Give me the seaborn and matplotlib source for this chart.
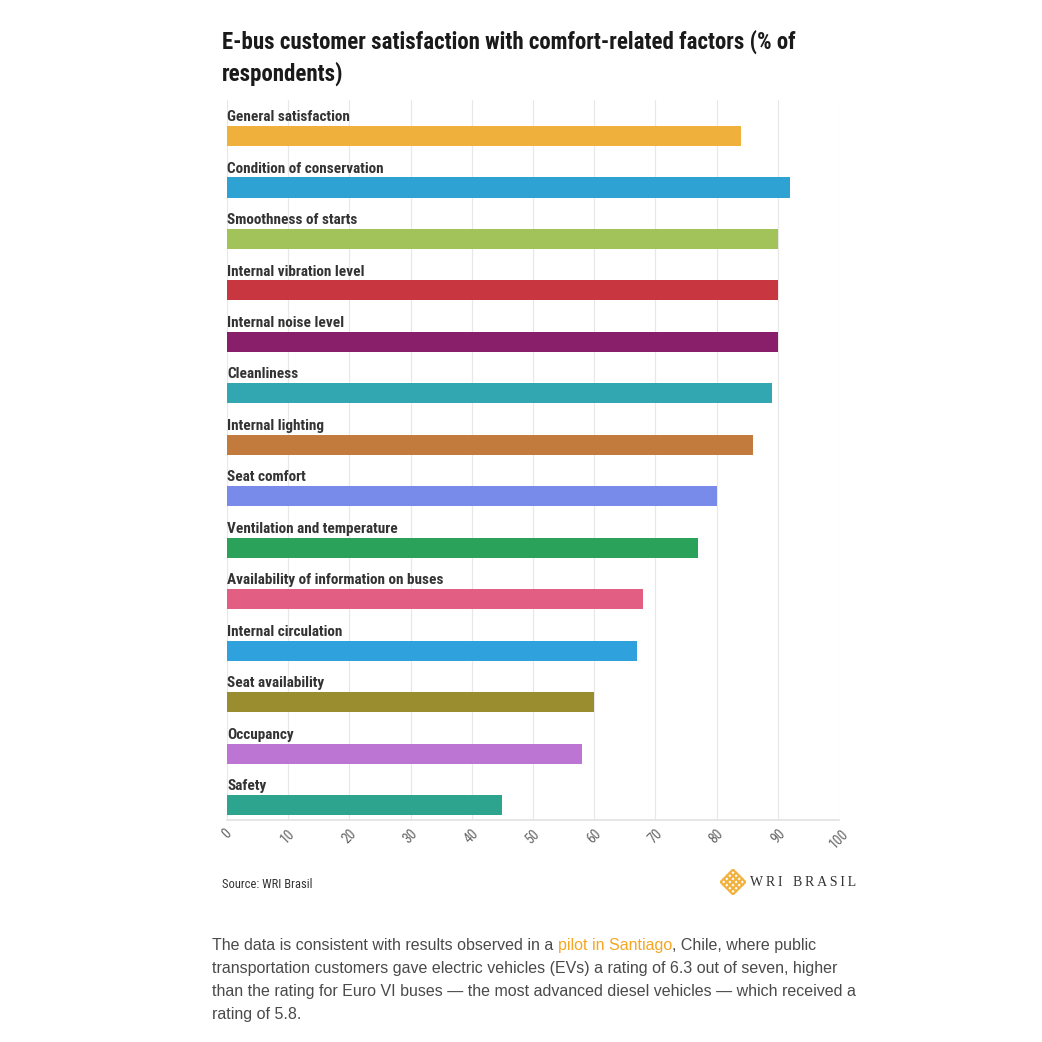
import matplotlib
matplotlib.use("Agg")
import matplotlib.pyplot as plt
import seaborn as sns
import pandas as pd

factors = [
    "General satisfaction", "Condition of conservation", "Smoothness of starts",
    "Internal vibration level", "Internal noise level", "Cleanliness",
    "Internal lighting", "Seat comfort", "Ventilation and temperature",
    "Availability of information on buses", "Internal circulation",
    "Seat availability", "Occupancy", "Safety",
]
satisfaction = [84, 92, 90, 90, 90, 89, 86, 80, 77, 68, 67, 60, 58, 45]
bar_colors = [
    "#F0B13C", "#2EA2D2", "#A2C25A", "#C8373F", "#891E6B", "#33A7B1",
    "#C27B3D", "#788BEA", "#2BA259", "#E25E82", "#2FA2DE", "#9A8D30",
    "#BC75D2", "#2DA58E",
]
x_ticks = list(range(0, 101, 10))

title = "E-bus customer satisfaction with comfort-related factors (% of\nrespondents)"
source = "Source: WRI Brasil"
para_before = "The data is consistent with results observed in a "
para_link = "pilot in Santiago"
para_after = ", Chile, where public"
para_rest = [
    "transportation customers gave electric vehicles (EVs) a rating of 6.3 out of seven, higher",
    "than the rating for Euro VI buses \u2014 the most advanced diesel vehicles \u2014 which received a",
    "rating of 5.8.",
]

sns.set_theme(style="white")
cond = ["Liberation Sans Narrow", "Roboto Condensed", "Roboto", "DejaVu Sans"]
body = ["Liberation Sans", "DejaVu Sans"]
plt.rcParams["font.family"] = cond

df = pd.DataFrame({"factor": factors, "value": satisfaction})

fig = plt.figure(figsize=(10.42, 10.42), dpi=100)
ax = fig.add_axes([0.2179, 0.2131, 0.5873, 0.6909])

sns.barplot(data=df, x="value", y="factor", hue="factor", palette=bar_colors,
            legend=False, width=0.39, orient="h", ax=ax, edgecolor="none",
            saturation=1)

ax.set_xlim(0, 100)
ax.set_ylim(len(factors) - 1 + 0.29, -0.70)
ax.set_xticks(x_ticks)
ax.set_xticklabels([str(t) for t in x_ticks], rotation=45, fontsize=10,
                   color="#666666", ha="center")
ax.tick_params(axis="x", length=0, pad=5)
ax.set_yticks([])
ax.set_xlabel("")
ax.set_ylabel("")
ax.grid(axis="x", color="#e8e8e8", linewidth=0.9)
ax.set_axisbelow(True)
for s in ["top", "right", "left"]:
    ax.spines[s].set_visible(False)
ax.spines["bottom"].set_color("#e3e3e3")

for i, name in enumerate(factors):
    ax.text(0, i - 0.29, name, fontsize=11, fontweight="bold",
            color="#333333", va="baseline", ha="left")

fig.text(222 / 1042, 1 - 30 / 1042, title, fontsize=16.5, fontweight="bold",
         color="#1a1a1a", va="top", ha="left", linespacing=1.35)

fig.text(222 / 1042, 1 - 885 / 1042, source, fontsize=9, color="#333333",
         va="center", ha="left")

# logo: gold diamond lattice + spaced serif wordmark
fig.text(750 / 1042, 1 - 882 / 1042, "W\u2009R\u2009I\u2002 B\u2009R\u2009A\u2009S\u2009I\u2009L",
         fontsize=10, family=["Liberation Serif", "DejaVu Serif"],
         color="#333333", va="center", ha="left")
lax = fig.add_axes([720 / 1042, 1 - 895 / 1042, 26 / 1042, 26 / 1042])
lax.set_xlim(-1.05, 1.05)
lax.set_ylim(-1.05, 1.05)
lax.axis("off")
for c in [-1, -0.5, 0, 0.5, 1]:
    lax.plot([(-1 - c) / 2, (1 - c) / 2], [(-1 + c) / 2, (1 + c) / 2],
             color="#F2B13D", lw=1.6, solid_capstyle="round")
    lax.plot([(c - 1) / 2, (c + 1) / 2], [(c + 1) / 2, (c - 1) / 2],
             color="#F2B13D", lw=1.6, solid_capstyle="round")

# paragraph under the chart, with the highlighted link text
y0 = 1 - 950 / 1042
t1 = fig.text(212 / 1042, y0, para_before, fontsize=11.5, family=body,
              color="#4a4a4a", va="baseline", ha="left")
link = ax.annotate(para_link, xy=(1, 0), xycoords=t1, va="bottom", ha="left",
                   fontsize=11.5, family=body, color="#F5A623",
                   annotation_clip=False)
ax.annotate(para_after, xy=(1, 0), xycoords=link, va="bottom", ha="left",
            fontsize=11.5, family=body, color="#4a4a4a", annotation_clip=False)
for j, line in enumerate(para_rest):
    fig.text(212 / 1042, y0 - (j + 1) * 23 / 1042, line, fontsize=11.5,
             family=body, color="#4a4a4a", va="baseline", ha="left")

fig.savefig("out.png", dpi=100, facecolor="white")
